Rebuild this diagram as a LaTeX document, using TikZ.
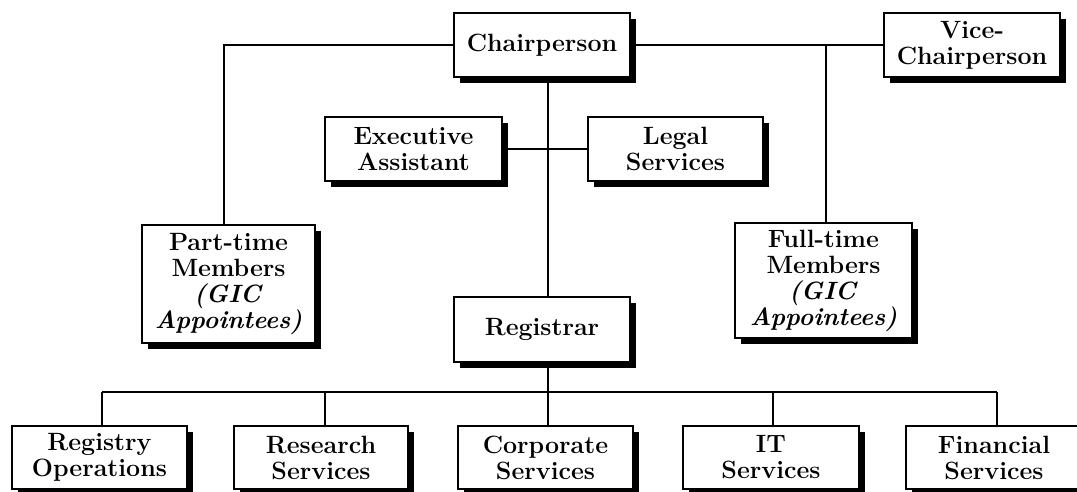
\documentclass[tikz,border=0pt]{standalone}
\usepackage{fontspec}
\usetikzlibrary{shadows}
\begin{document}
\begin{tikzpicture}[x=1pt,y=-1pt,
  box/.style={draw, line width=2.4pt, fill=white, align=center, inner sep=0pt,
    font=\fontsize{25}{26}\selectfont\bfseries,
    general shadow={fill=black, shadow xshift=6pt, shadow yshift=-6pt}},
  conn/.style={line width=2.8pt}]
\useasboundingbox (0,0) rectangle (1077,492);
\node[box, minimum width=176, minimum height=64] (chair) at (542,45) {Chairperson};
\node[box, minimum width=176, minimum height=64] (vice) at (972,45) {Vice-\\Chairperson};
\node[box, minimum width=177, minimum height=64] (exec) at (413.5,149) {Executive\\Assistant};
\node[box, minimum width=175, minimum height=64] (legal) at (675.5,149) {Legal\\Services};
\node[box, minimum width=173, minimum height=118] (part) at (228.5,284) {Part-time\\Members\\\textit{(GIC}\\\textit{Appointees)}};
\node[box, minimum width=177, minimum height=115] (full) at (823.5,280.5) {Full-time\\Members\\\textit{(GIC}\\\textit{Appointees)}};
\node[box, minimum width=176, minimum height=65] (reg) at (542,329.5) {Registrar};
\node[box, minimum width=175, minimum height=63] (registry) at (99.5,457.5) {Registry\\Operations};
\node[box, minimum width=174, minimum height=63] (research) at (321,457.5) {Research\\Services};
\node[box, minimum width=175, minimum height=63] (corp) at (545.5,457.5) {Corporate\\Services};
\node[box, minimum width=176, minimum height=63] (it) at (771,457.5) {IT\\Services};
\node[box, minimum width=176, minimum height=63] (fin) at (994,457.5) {Financial\\Services};
\coordinate (pt) at (224,0);
\coordinate (ft) at (826,0);
\coordinate (sp) at (548,0);
\coordinate (v1) at (102,392);
\coordinate (v2) at (325,392);
\coordinate (v3) at (548,392);
\coordinate (v4) at (773,392);
\coordinate (v5) at (997,392);
\draw[conn] (chair.west) -- (chair.west -| pt) -- (part.north -| pt);
\draw[conn] (chair.east) -- (vice.west);
\draw[conn] (chair.east -| ft) -- (full.north -| ft);
\draw[conn] (chair.south -| sp) -- (reg.north -| sp);
\draw[conn] (exec.east) -- (legal.west);
\draw[conn] (reg.south -| sp) -- (v3);
\draw[conn] (v1) -- (v5);
\draw[conn] (v1) -- (registry.north -| v1);
\draw[conn] (v2) -- (research.north -| v2);
\draw[conn] (v3) -- (corp.north -| v3);
\draw[conn] (v4) -- (it.north -| v4);
\draw[conn] (v5) -- (fin.north -| v5);
\end{tikzpicture}
\end{document}
